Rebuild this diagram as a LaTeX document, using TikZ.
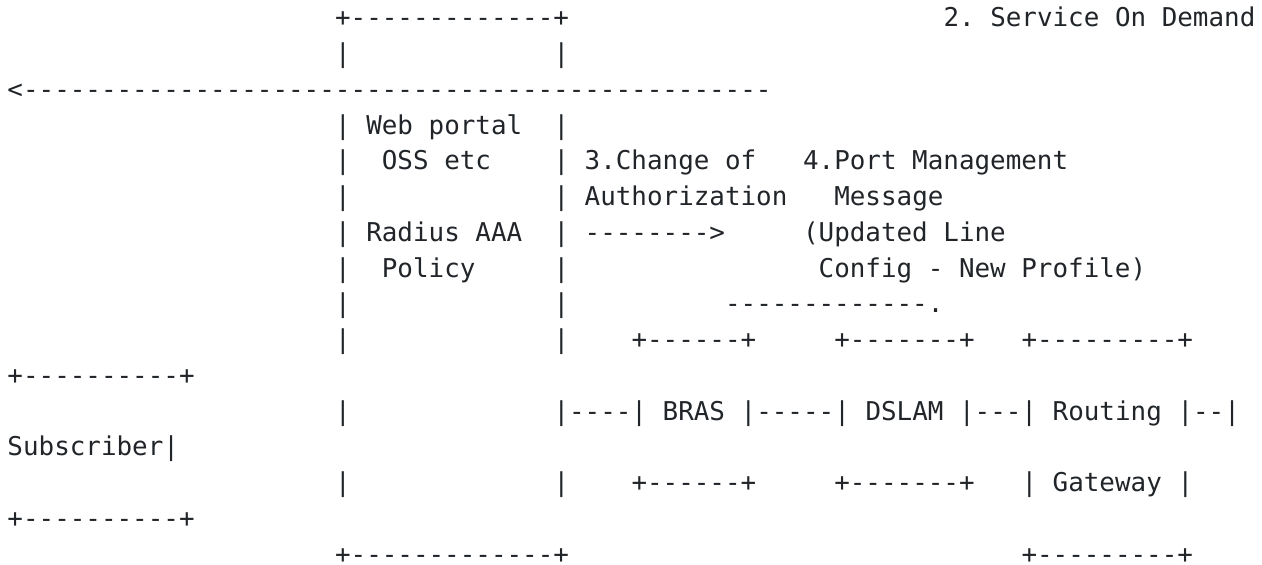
\documentclass[tikz,border=0pt]{standalone}
\usepackage{fontspec}
\setmonofont{DejaVu Sans Mono}
\usepackage{tikz}

\definecolor{asciiInk}{HTML}{212529}
\newcommand\asciiFont{\ttfamily\fontsize{25.9pt}{30pt}\selectfont\frenchspacing}

\begin{document}
\begin{tikzpicture}
[x=15.6pt, y=-35.76pt,
  asciiText/.style={anchor=base west,inner sep=0pt,outer sep=0pt,
    font=\asciiFont,text=asciiInk}]
\useasboundingbox (-7.5pt,-8.96pt) rectangle (1254.5pt,-573.96pt);
%% portal box: top, bottom and side bars
\node (portalTop) at (21,1) [asciiText] {+-------------+};
\node (portalBottom) at (21,16) [asciiText] {+-------------+};
\foreach \rowno in {2,4,5,6,7,8,9,10,12,14}
{
  \node (portalL\rowno) at (21,\rowno) [asciiText] {|};
}
\foreach \rowno in {2,4,5,6,7,8,9,10,14}
{
  \node (portalR\rowno) at (35,\rowno) [asciiText] {|};
}
%% labels and arrows (column/row)
\foreach \nodename/\col/\rowno/\txt in {
  demand/60/1/2. Service On Demand,
  demandArrow/0/3/<------------------------------------------------,
  webPortal/23/4/Web portal, oss/24/5/OSS etc,
  radius/23/7/Radius AAA, policy/24/8/Policy,
  coaNo/37/5/3.Change of, coaText/37/6/Authorization,
  coaArrow/37/7/-------->,
  pmNo/51/5/4.Port Management, pmText/53/6/Message,
  pmLine/51/7/(Updated Line, pmProfile/52/8/Config - New Profile),
  pmArrow/46/9/-------------.}
{
  \node (\nodename) at (\col,\rowno) [asciiText] {\txt};
}
%% access chain: BRAS, DSLAM, routing gateway
\foreach \nodename/\col/\rowno/\txt in {
  brasTop/40/10/+------+, dslamTop/53/10/+-------+, rgTop/65/10/+---------+,
  portalLink/35/12/|----|, bras/42/12/BRAS, brasLink/47/12/|-----|,
  dslam/55/12/DSLAM, dslamLink/61/12/|---|, rg/67/12/Routing,
  rgLink/75/12/|--|,
  brasBottom/40/14/+------+, dslamBottom/53/14/+-------+,
  rgL/65/14/|, gateway/67/14/Gateway, rgR/75/14/|,
  rgBottom/65/16/+---------+}
{
  \node (\nodename) at (\col,\rowno) [asciiText] {\txt};
}
%% subscriber box
\foreach \nodename/\col/\rowno/\txt in {
  subTop/0/11/+----------+, subscriber/0/13/Subscriber|,
  subBottom/0/15/+----------+}
{
  \node (\nodename) at (\col,\rowno) [asciiText] {\txt};
}
\end{tikzpicture}
\end{document}
